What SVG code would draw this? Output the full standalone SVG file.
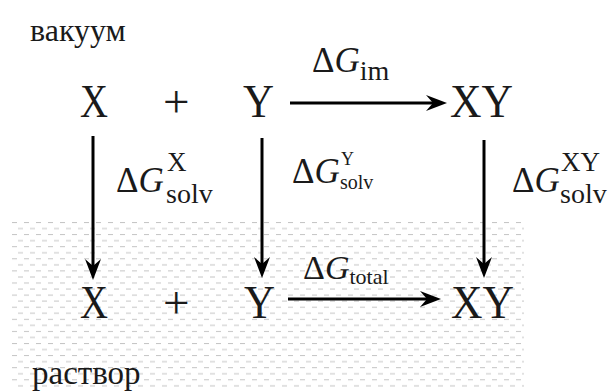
<svg xmlns="http://www.w3.org/2000/svg" width="614" height="391" viewBox="0 0 614 391">
<style>
text{font-family:"Liberation Serif","Times New Roman",serif;fill:#1a1a1a}
.big{font-size:47px}
.lab{font-size:35px}
.it{font-style:italic}
.conn line{stroke:#000;stroke-width:3;marker-end:url(#ah)}
</style>
<defs>
<marker id="ah" viewBox="0 0 22 18" refX="10" refY="9" markerWidth="22" markerHeight="18" markerUnits="userSpaceOnUse" orient="auto">
<path d="M22,9 L1,1 L8,9 L1,17 Z" fill="#000"/>
</marker>
<pattern id="hatch" patternUnits="userSpaceOnUse" x="12" y="222" width="12" height="12.1">
<line x1="0" y1="0.5" x2="5" y2="0.5" stroke="#c4c4c4" stroke-width="1"/>
<line x1="6" y1="6.55" x2="11" y2="6.55" stroke="#c4c4c4" stroke-width="1"/>
</pattern>
</defs>
<rect id="solvent" x="12" y="220" width="512" height="171" fill="url(#hatch)"/>
<g id="label-vacuum"><text x="30" y="41" font-size="32">вакуум</text></g>
<g id="label-solution"><text x="32" y="384" font-size="33">раствор</text></g>
<g id="top-X"><text class="big" x="80" y="117" textLength="28" lengthAdjust="spacingAndGlyphs">X</text></g>
<g id="top-plus"><text class="big" x="163" y="117">+</text></g>
<g id="top-Y"><text class="big" x="243" y="117" textLength="31" lengthAdjust="spacingAndGlyphs">Y</text></g>
<g id="top-XY"><text class="big" x="450" y="117" textLength="63" lengthAdjust="spacingAndGlyphs">XY</text></g>
<g id="bot-X"><text class="big" x="80" y="318" textLength="28" lengthAdjust="spacingAndGlyphs">X</text></g>
<g id="bot-plus"><text class="big" x="163" y="318">+</text></g>
<g id="bot-Y"><text class="big" x="244" y="318" textLength="31" lengthAdjust="spacingAndGlyphs">Y</text></g>
<g id="bot-XY"><text class="big" x="451" y="318" textLength="63" lengthAdjust="spacingAndGlyphs">XY</text></g>
<g id="connectors" class="conn">
<line x1="290" y1="103" x2="435" y2="103"/>
<line x1="288" y1="299" x2="429" y2="299"/>
<line x1="93" y1="136" x2="93" y2="268"/>
<line x1="262" y1="138" x2="262" y2="266"/>
<line x1="484" y1="140" x2="484" y2="266"/>
</g>
<g id="label-im"><text class="lab" x="312" y="72">Δ<tspan class="it">G</tspan><tspan font-size="28" dy="8">im</tspan></text></g>
<g id="label-total"><text x="303" y="279" font-size="34">Δ<tspan class="it">G</tspan><tspan font-size="22" dy="5">total</tspan></text></g>
<g id="label-solvX"><text class="lab" x="116" y="192">Δ<tspan class="it">G</tspan></text><text x="167" y="171" font-size="27">X</text><text x="166" y="203" font-size="28">solv</text></g>
<g id="label-solvY"><text class="lab" x="292" y="183">Δ<tspan class="it">G</tspan></text><text x="341" y="165" font-size="18">Y</text><text x="340" y="189" font-size="20">solv</text></g>
<g id="label-solvXY"><text class="lab" x="512" y="192">Δ<tspan class="it">G</tspan></text><text x="561" y="171" font-size="27">XY</text><text x="560" y="203" font-size="28">solv</text></g>
</svg>
